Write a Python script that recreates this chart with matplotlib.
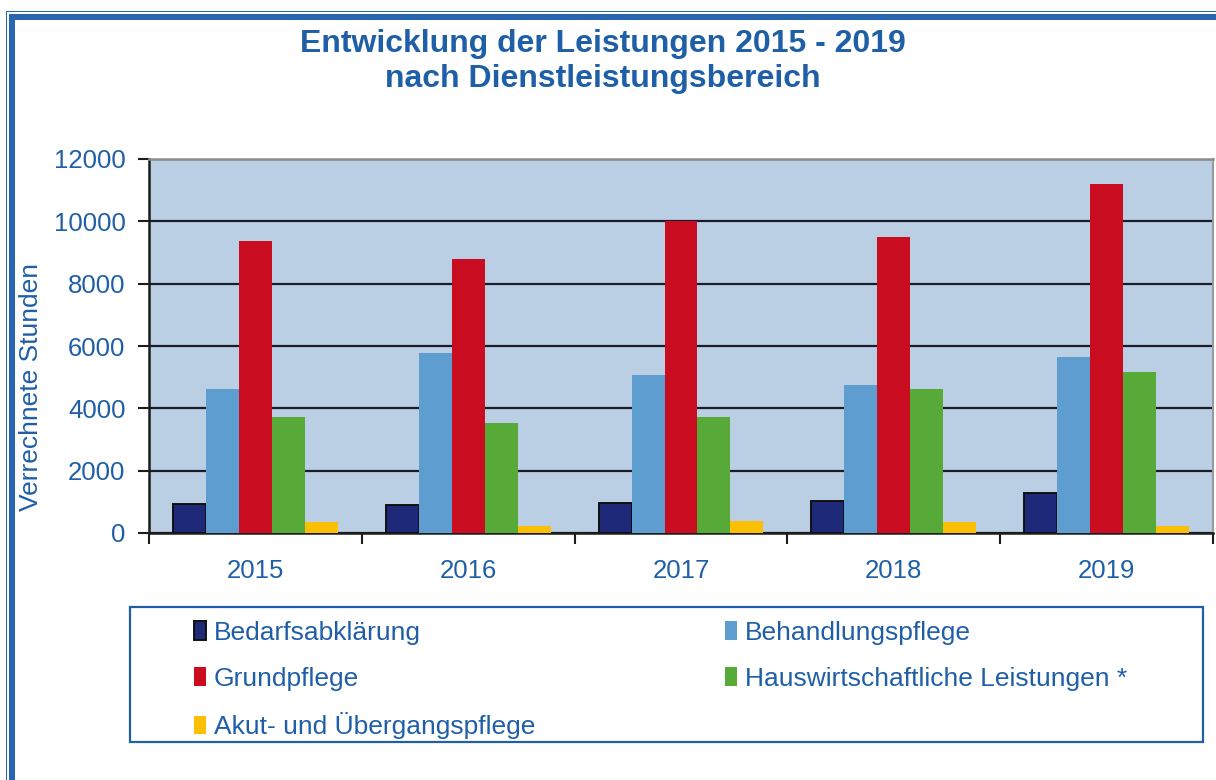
import matplotlib
matplotlib.use("Agg")
import matplotlib.pyplot as plt
from matplotlib.patches import Rectangle
import numpy as np

plt.rcParams['font.family'] = ['Liberation Sans', 'DejaVu Sans']

years = ['2015', '2016', '2017', '2018', '2019']
series_names = ['Bedarfsabklärung', 'Behandlungspflege', 'Grundpflege',
                'Hauswirtschaftliche Leistungen *', 'Akut- und Übergangspflege']
bedarf = [920, 900, 970, 1030, 1290]
behandlung = [4620, 5790, 5080, 4750, 5660]
grund = [9370, 8790, 10010, 9490, 11200]
haus = [3710, 3530, 3710, 4620, 5150]
akut = [340, 210, 400, 340, 210]
values = [bedarf, behandlung, grund, haus, akut]
colors = ['#1f297a', '#5e9dd0', '#c90c20', '#57aa37', '#fbbf05']
yticks = [0, 2000, 4000, 6000, 8000, 10000, 12000]

W, H = 1216, 780
fig = plt.figure(figsize=(W / 100, H / 100), dpi=100)
TXT = '#1f5fa8'

def fx(px):
    return px / W

def fy(py):
    return 1 - py / H

ax = fig.add_axes([fx(149), fy(533), fx(1213) - fx(149), fy(159) - fy(533)])
ax.set_facecolor('#bacfe4')

x = np.arange(len(years))
bw = 0.155
bars = []
for i, (vals, col) in enumerate(zip(values, colors)):
    ec = '#111111' if i == 0 else 'none'
    lw = 1.4 if i == 0 else 0
    b = ax.bar(x + (i - 2) * bw, vals, width=bw, color=col, edgecolor=ec,
               linewidth=lw, label=series_names[i], zorder=3)
    bars.append(b)

ax.set_xlim(-0.5, len(years) - 0.5)
ax.set_ylim(0, 12000)
ax.set_yticks(yticks)
ax.set_yticklabels([str(v) for v in yticks])
ax.yaxis.grid(True, color='#1c1c28', linewidth=1.6, zorder=1)
ax.set_axisbelow(True)

ax.set_xticks(np.arange(len(years) + 1) - 0.5)
ax.set_xticklabels([])
ax.set_xticks(x, minor=True)
ax.set_xticklabels(years, minor=True)
ax.tick_params(axis='x', which='major', length=8, width=1.5, color='#1c1c1c', direction='out')
ax.tick_params(axis='x', which='minor', length=0, pad=19, labelsize=18.5, labelcolor=TXT)
ax.tick_params(axis='y', length=8, width=1.5, color='#1c1c1c', pad=9, labelsize=18.5, labelcolor=TXT)

for s in ['left', 'bottom']:
    ax.spines[s].set_color('#1c1c1c')
    ax.spines[s].set_linewidth(1.8)
ax.spines['top'].set_color('#8c8c8c')
ax.spines['top'].set_linewidth(1.8)
ax.spines['right'].set_color('#9a9a9a')
ax.spines['right'].set_linewidth(1.5)

fig.text(fx(31), fy(387), 'Verrechnete Stunden', rotation=90, ha='center', va='center',
         fontsize=19, color=TXT)

fig.text(fx(603), fy(52), 'Entwicklung der Leistungen 2015 - 2019', ha='center',
         va='baseline', fontsize=23, fontweight='bold', color=TXT)
fig.text(fx(603), fy(87), 'nach Dienstleistungsbereich', ha='center',
         va='baseline', fontsize=23, fontweight='bold', color=TXT)

# legend frame
fig.patches.append(Rectangle((fx(130), fy(742)), fx(1203) - fx(130), fy(607) - fy(742),
                             transform=fig.transFigure, fill=False, edgecolor='#1f5fa8',
                             linewidth=1.6))
order = [0, 2, 4, 1, 3]
leg = fig.legend([bars[i] for i in order], [series_names[i] for i in order],
                 loc='upper left', bbox_to_anchor=(fx(194), fy(621)), ncol=2,
                 frameon=False, fontsize=19, handlelength=0.45, handleheight=0.72,
                 handletextpad=0.3, columnspacing=7.2, labelspacing=0.82,
                 borderpad=0, borderaxespad=0)
for t in leg.get_texts():
    t.set_color(TXT)

# outer double border (left and top)
BC = '#2a66b0'
fig.patches.append(Rectangle((fx(6), fy(H + 20)), fx(1.2), fy(11) - fy(H + 20),
                             transform=fig.transFigure, color=BC, linewidth=0))
fig.patches.append(Rectangle((fx(6), fy(12.2)), fx(W + 20) - fx(6), fy(11) - fy(12.2),
                             transform=fig.transFigure, color=BC, linewidth=0))
fig.patches.append(Rectangle((fx(9), fy(H + 20)), fx(5.5), fy(14) - fy(H + 20),
                             transform=fig.transFigure, color=BC, linewidth=0))
fig.patches.append(Rectangle((fx(9), fy(19.5)), fx(W + 20) - fx(9), fy(14) - fy(19.5),
                             transform=fig.transFigure, color=BC, linewidth=0))

fig.savefig('out.png', dpi=100, facecolor='white')
